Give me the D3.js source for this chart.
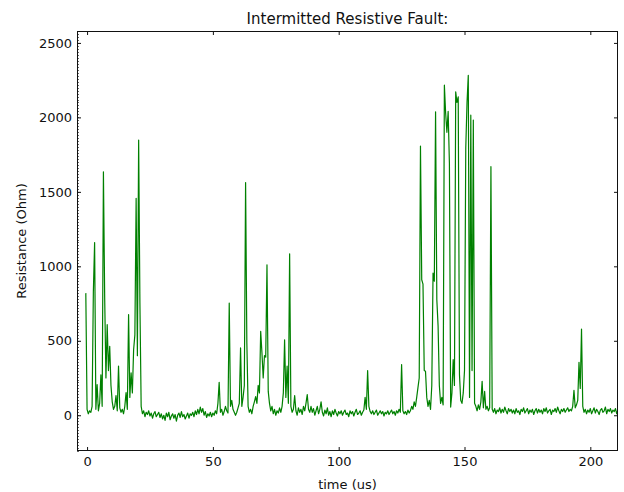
<!DOCTYPE html>
<html>
<head>
<meta charset="utf-8">
<script src="https://cdn.jsdelivr.net/npm/d3@7"></script>
<style>
  body { margin: 0; background: #fff; }
  text { font-family: "DejaVu Sans", sans-serif; fill: #111; }
  .axis path { display: none; }
  .axis line { stroke: #111; }
</style>
</head>
<body>
<svg width="624" height="492"></svg>
<script>
// samples every 0.5 us starting at -0.5 us
var startTime = -0.5;
var timeStep = 0.5;
var resistance = [
  820, 40, 10, 30, 20, 60, 830, 1160, 40, 205, 30, 80, 272, 60, 1635, 790, 250, 608, 300, 463,
  200, 90, 40, 60, 132, 30, 330, 50, 20, 40, 10, 60, 152, 40, 675, 120, 284, 150, 440, 540,
  1457, 400, 1848, 757, 60, 10, 30, -10, 20, 5, 30, -5, 15, -20, 10, 25, -10, 5, 20, -15,
  10, -25, 0, -35, 15, -10, 20, -30, -5, 10, -20, 5, -40, 0, 15, -15, 25, -10, 5, -25,
  -5, 15, -20, 10, 0, 20, -10, 30, 5, 40, 10, 55, 20, 45, 0, 25, -15, 10, -5, 20,
  -10, 15, 0, 30, 10, 80, 221, 20, 40, 0, 25, 60, 30, 15, 753, 60, 100, 40, 20, 0,
  20, 50, 80, 452, 60, 120, 200, 1562, 487, 60, 20, 40, 10, 60, 90, 125, 80, 200, 150, 563,
  420, 250, 400, 390, 1010, 160, 80, 30, 60, 10, 40, 0, 30, 15, 50, 20, 60, 150, 507, 120,
  330, 80, 1084, 60, 20, 40, 132, 30, 0, 50, 20, 40, 5, 60, 30, 80, 139, 40, 20, 60,
  20, 45, 0, 30, 60, 10, 40, 90, 20, -5, 35, 10, 50, 0, 25, -10, 30, 5, 40, 15,
  -5, 25, 10, 30, 0, 20, 35, 5, 15, -10, 30, 10, 25, -5, 20, 40, 5, 15, 30, 0,
  20, 35, 120, 40, 300, 60, 25, 10, 30, 5, 20, 35, 0, 15, 30, 10, 25, -5, 20, 10,
  30, 5, 20, 35, 10, 25, 0, 30, 15, 40, 20, 340, 30, 10, 25, 5, 35, 15, 30, 60,
  40, 90, 60, 120, 185, 250, 1808, 910, 880, 300, 295, 120, 60, 100, 40, 200, 955, 900, 2037, 775,
  600, 200, 80, 120, 70, 2216, 2030, 1900, 2040, 1692, 55, 150, 373, 200, 2172, 2100, 2138, 273, 100, 80,
  150, 300, 1794, 2100, 2283, 120, 2015, 300, 1982, 80, 60, 30, 70, 40, 90, 228, 50, 160, 40, 60,
  30, 50, 1669, 40, 20, 45, 10, 35, 25, 50, 15, 40, 20, 55, 30, 10, 45, 25, 40, 15,
  35, 10, 45, 20, 30, 5, 40, 25, 50, 15, 30, 45, 10, 35, 20, 40, 5, 30, 45, 15,
  40, 20, 35, 10, 45, 25, 50, 15, 30, 40, 5, 35, 25, 45, 20, 55, 30, 10, 40, 25,
  45, 20, 35, 50, 25, 40, 30, 60, 168, 50, 70, 100, 355, 180, 579, 60, 20, 40, 10, 35,
  20, 45, 10, 30, 50, 15, 40, 25, 5, 35, 45, 20, 30, 55, 10, 40, 25, 45, 15, 35,
  25, 45, 10, 40, 30, 50, 20, 35, 15, 40
];
var xTicks = [0, 50, 100, 150, 200];
var yTicks = [0, 500, 1000, 1500, 2000, 2500];

var svg = d3.select('svg');
var margin = {top: 31, right: 6, bottom: 41, left: 77};
var width = svg.attr('width') - margin.left - margin.right;
var height = svg.attr('height') - margin.top - margin.bottom;
var g = svg.append('g')
  .attr('transform', `translate(${margin.left},${margin.top})`);

var x = d3.scaleLinear().domain([-4, 211]).range([0, width]);
var y = d3.scaleLinear().domain([-240, 2580]).range([height, 0]);

var data = resistance.map((r, i) => ({t: startTime + i * timeStep, r: r}));

g.append('clipPath').attr('id', 'clip')
  .append('rect').attr('width', width).attr('height', height);

var line = d3.line().x((d) => x(d.t)).y((d) => y(d.r));

g.append('path')
  .datum(data)
  .attr('clip-path', 'url(#clip)')
  .attr('fill', 'none')
  .attr('stroke', '#008000')
  .attr('stroke-width', 1.2)
  .attr('stroke-linejoin', 'round')
  .attr('d', line);

// minor ticks on left spine
g.append('g')
  .selectAll('line')
  .data(d3.range(-240, 2580, 20))
  .enter().append('line')
    .attr('x1', 0).attr('x2', 2)
    .attr('y1', (d) => Math.round(y(d)) + 0.5)
    .attr('y2', (d) => Math.round(y(d)) + 0.5)
    .attr('stroke', '#666');

g.append('g')
  .attr('class', 'axis')
  .attr('transform', `translate(0,${height})`)
  .call(d3.axisBottom(x).tickValues(xTicks).tickFormat(d3.format('d'))
    .tickSizeInner(-4).tickSizeOuter(0).tickPadding(6))
  .selectAll('text').attr('font-size', 13).style('font-family', '"DejaVu Sans", sans-serif');

g.append('g')
  .attr('class', 'axis')
  .call(d3.axisLeft(y).tickValues(yTicks).tickFormat(d3.format('d'))
    .tickSizeInner(-4).tickSizeOuter(0).tickPadding(5))
  .selectAll('text').attr('font-size', 13).style('font-family', '"DejaVu Sans", sans-serif');

g.append('g')
  .attr('class', 'axis')
  .call(d3.axisTop(x).tickValues(xTicks).tickSizeInner(-4).tickSizeOuter(0).tickFormat(''));

g.append('g')
  .attr('class', 'axis')
  .attr('transform', `translate(${width},0)`)
  .call(d3.axisRight(y).tickValues(yTicks).tickSizeInner(-4).tickSizeOuter(0).tickFormat(''));

g.append('rect')
  .attr('x', 0.5).attr('y', 0.5)
  .attr('width', width - 1).attr('height', height - 1)
  .attr('fill', 'none')
  .attr('stroke', '#111');

svg.append('text')
  .attr('x', margin.left + width / 2)
  .attr('y', 24)
  .attr('text-anchor', 'middle')
  .attr('font-size', 15)
  .text('Intermitted Resistive Fault:');

svg.append('text')
  .attr('x', margin.left + width / 2)
  .attr('y', 489)
  .attr('text-anchor', 'middle')
  .attr('font-size', 13)
  .text('time (us)');

svg.append('text')
  .attr('transform', `translate(26,${margin.top + height / 2}) rotate(-90)`)
  .attr('text-anchor', 'middle')
  .attr('font-size', 13)
  .text('Resistance (Ohm)');
</script>
</body>
</html>
